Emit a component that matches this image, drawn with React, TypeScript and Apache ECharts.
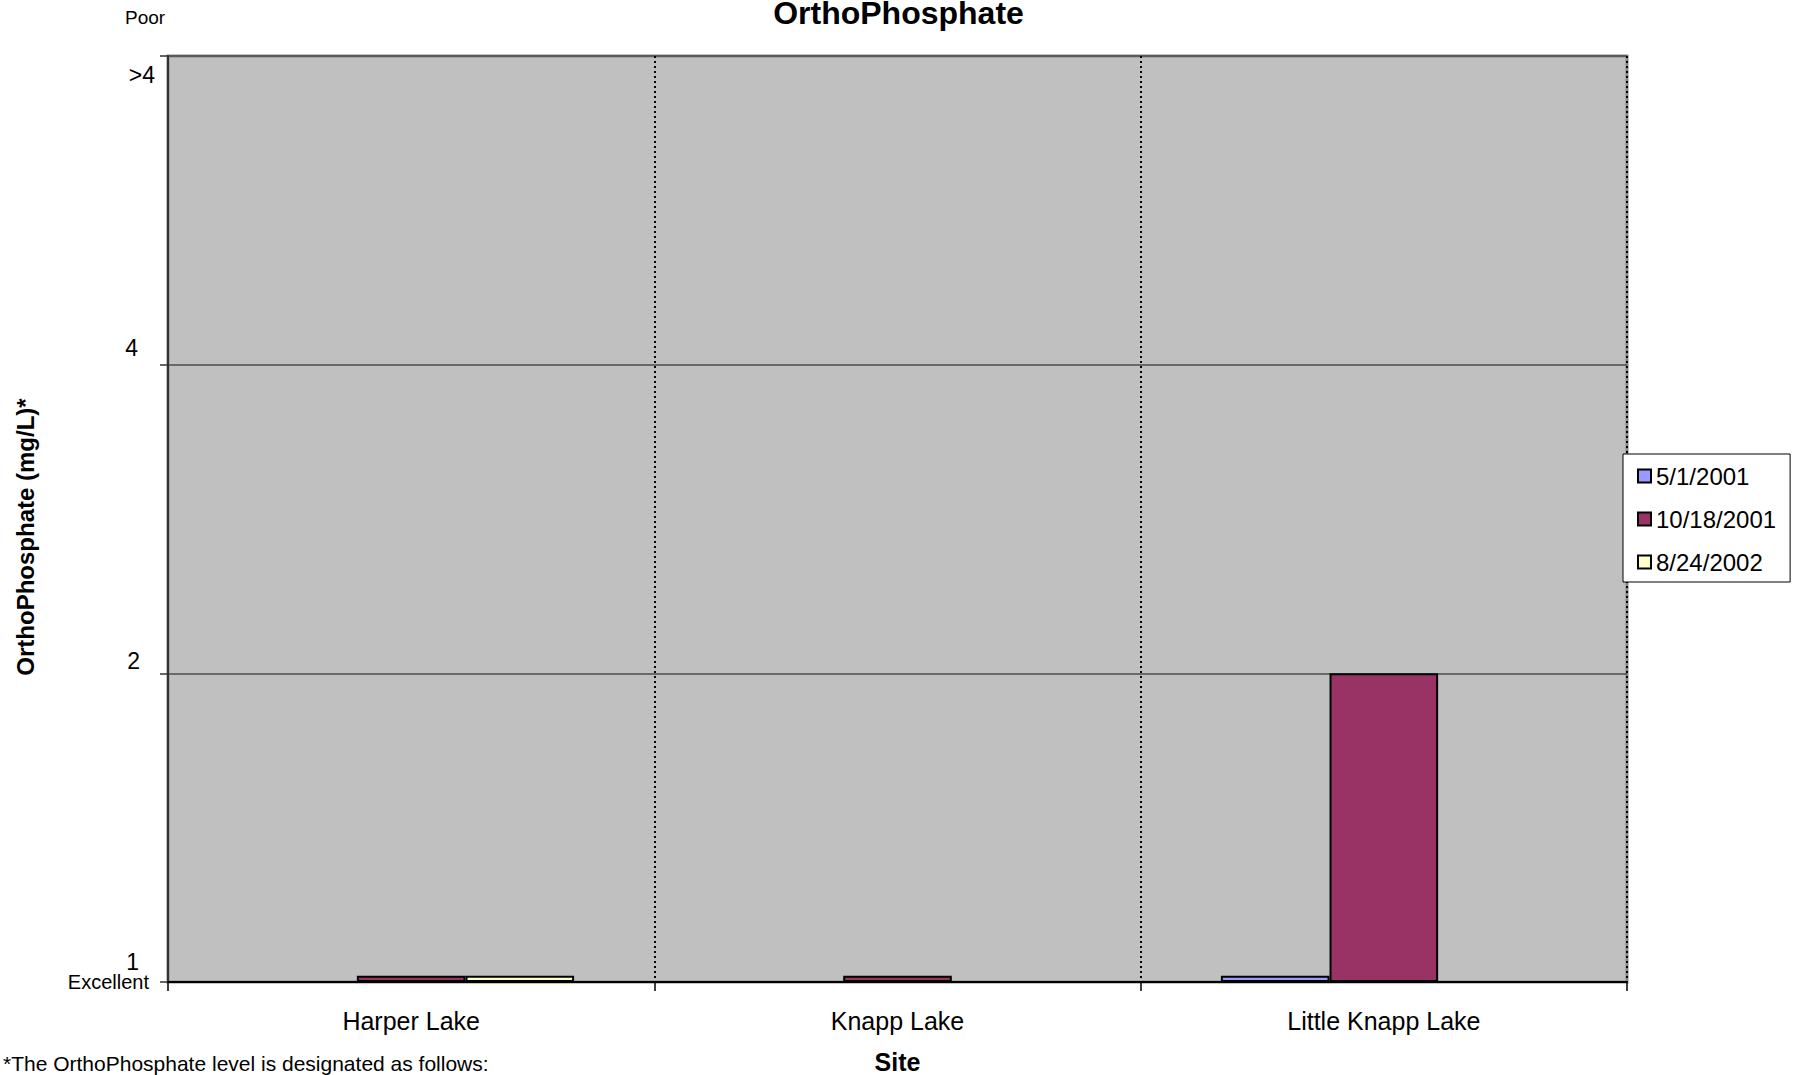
import React, { useEffect, useRef } from "react";
import * as echarts from "echarts";

const categories = ["Harper Lake", "Knapp Lake", "Little Knapp Lake"];
const seriesNames = ["5/1/2001", "10/18/2001", "8/24/2002"];
const seriesColors = ["#9999FF", "#993366", "#FFFFCC"];
// values are positions on the level scale (0 = "1", 1 = "2", 2 = "4", 3 = ">4")
const values_5_1_2001 = [null, null, 0.02];
const values_10_18_2001 = [0.02, 0.02, 1];
const values_8_24_2002 = [0.02, null, null];
const yTickLabels = ["1", "2", "4", ">4"];

const FONT = "'Liberation Sans', Arial, sans-serif";

export default function App() {
  const ref = useRef<HTMLDivElement>(null);

  useEffect(() => {
    document.body.style.margin = "0";
    const chart = echarts.init(ref.current!, undefined, { renderer: "svg" });
    const seriesData = [values_5_1_2001, values_10_18_2001, values_8_24_2002];
    const option: any = {
      animation: false,
      backgroundColor: "#ffffff",
      textStyle: { fontFamily: FONT, color: "#000" },
      title: {
        text: "OrthoPhosphate",
        left: "center",
        top: -8,
        textStyle: { fontFamily: FONT, fontSize: 32, fontWeight: "bold", color: "#000" },
      },
      legend: {
        orient: "vertical",
        left: 1623,
        top: 454,
        padding: [9, 14, 7, 14],
        itemGap: 17,
        itemWidth: 13,
        itemHeight: 13,
        icon: "rect",
        backgroundColor: "#ffffff",
        borderColor: "#000",
        borderWidth: 1,
        borderRadius: 0,
        itemStyle: { borderColor: "#000", borderWidth: 2 },
        textStyle: { fontFamily: FONT, fontSize: 24, color: "#000", lineHeight: 26 },
        data: seriesNames,
      },
      grid: {
        left: 168,
        top: 56,
        right: 170,
        bottom: 93,
        containLabel: false,
        outerBoundsMode: "none",
        show: true,
        backgroundColor: "#C0C0C0",
        borderColor: "#888888",
        borderWidth: 3,
      },
      xAxis: {
        type: "category",
        data: categories,
        name: "Site",
        nameLocation: "middle",
        nameGap: 67,
        nameTextStyle: { fontFamily: FONT, fontSize: 25, fontWeight: "bold", color: "#000" },
        axisLine: { show: true, lineStyle: { color: "#000", width: 2 } },
        axisTick: { show: true, length: 9, lineStyle: { color: "#000", width: 1.5 } },
        axisLabel: { fontFamily: FONT, fontSize: 25, color: "#000", margin: 26 },
        splitLine: {
          show: true,
          interval: (idx: number) => idx > 0 && idx < categories.length,
          lineStyle: { color: "#000", width: 2, type: [2, 3] },
        },
      },
      yAxis: {
        type: "value",
        min: 0,
        max: 3,
        interval: 1,
        name: "OrthoPhosphate (mg/L)*",
        nameLocation: "middle",
        nameGap: 131,
        nameTextStyle: {
          fontFamily: FONT,
          fontSize: 24,
          fontWeight: "bold",
          color: "#000",
          padding: [0, 36, 0, 0],
        },
        axisLine: { show: true, lineStyle: { color: "#333", width: 2 } },
        axisTick: { show: true, length: 8, lineStyle: { color: "#333", width: 1.5 } },
        axisLabel: {
          margin: 13,
          fontFamily: FONT,
          fontSize: 23,
          color: "#000",
          formatter: (v: number) => {
            const i = Math.round(v);
            return `{l${i}|${yTickLabels[i]}}`;
          },
          rich: {
            l0: { fontFamily: FONT, fontSize: 23, color: "#000", padding: [0, 16, 41, 0] },
            l1: { fontFamily: FONT, fontSize: 23, color: "#000", padding: [0, 15, 24, 0] },
            l2: { fontFamily: FONT, fontSize: 23, color: "#000", padding: [0, 17, 34, 0] },
            l3: { fontFamily: FONT, fontSize: 23, color: "#000", padding: [38, 0, 0, 0] },
          },
        },
        splitLine: { show: true, lineStyle: { color: "#4d4d4d", width: 1.5 } },
      },
      graphic: [
        {
          type: "text",
          left: 125,
          top: 8,
          style: { text: "Poor", font: `19px ${FONT}`, fill: "#000" },
        },
        {
          type: "text",
          x: 149,
          y: 982,
          style: {
            text: "Excellent",
            font: `20px ${FONT}`,
            fill: "#000",
            textAlign: "right",
            textVerticalAlign: "middle",
          },
        },
        {
          type: "text",
          x: 3,
          y: 1063,
          style: {
            text: "*The OrthoPhosphate level is designated as follows:",
            font: `21px ${FONT}`,
            fill: "#000",
            textAlign: "left",
            textVerticalAlign: "middle",
          },
        },
      ],
      series: seriesNames.map((name, k) => ({
        name,
        type: "bar",
        data: seriesData[k],
        barGap: "0%",
        barCategoryGap: "33%",
        itemStyle: { color: seriesColors[k], borderColor: "#000", borderWidth: 2 },
      })),
    };
    chart.setOption(option);
    return () => chart.dispose();
  }, []);

  return (
    <div
      ref={ref}
      style={{ position: "fixed", left: 0, top: 0, width: 1797, height: 1075 }}
    />
  );
}
